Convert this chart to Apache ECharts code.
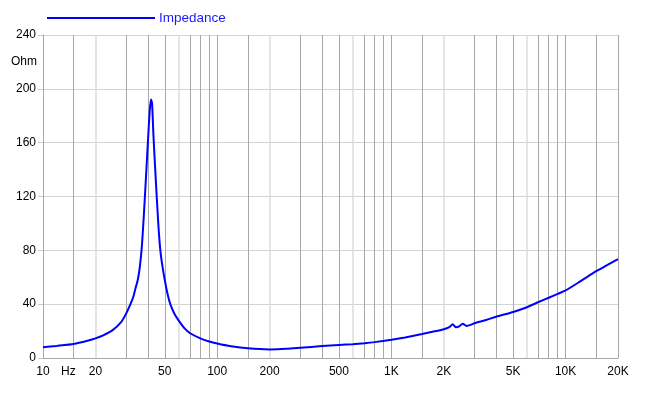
<!DOCTYPE html>
<html>
<head>
<meta charset="utf-8">
<script src="https://cdn.jsdelivr.net/npm/echarts@6/dist/echarts.min.js"></script>
<style>
html,body{margin:0;padding:0;background:#fff;}
#chart{width:650px;height:394px;}
</style>
</head>
<body>
<div id="chart"></div>
<script>
// Frequencies (Hz) and impedance (Ohm)
var freqs = [10,12,15,18,20,22,25,28,30,32,33,34,35,36,37,38,39,40,41,41.7,42.3,43,44,45,46,47,48,50,52,54,57,60,65,70,80,90,100,120,150,200,250,300,400,500,600,700,800,1000,1200,1500,1800,2000,2150,2250,2350,2450,2570,2700,2850,3000,3500,4000,5000,6000,7000,8000,9000,10000,12000,15000,17000,20000];
var impedance = [8.0,9.0,10.4,12.8,14.6,16.6,20.5,26.5,33,41,45.5,52,58,68,84,108,134,160,184,192,189,167,142,119,98,82,72,58,47,39.5,32.5,28,22,18.4,14.6,12.3,10.8,8.8,7.2,6.4,6.8,7.6,8.9,9.7,10.3,11,11.8,13.6,15.3,17.8,20,21.4,23,25,22.8,23.5,25.5,23.8,24.6,25.8,28.2,30.7,34.2,37.7,41.6,44.8,47.6,50.2,56.5,64.5,68.5,73.5];
var xLabelValues = [10,20,50,100,200,500,1000,2000,5000,10000,20000];
var gridDark = [15,30,40,50,70,80,90,100,150,300,400,500,700,800,900,1000,1500,3000,4000,5000,7000,8000,9000,10000,15000,20000];
var gridLight = [20,60,200,600,2000,6000];
var yTicks = {min:0, max:240, interval:40};
var seriesName = 'Impedance';

function fmtHz(v){
  if (v >= 1000) return (v/1000) + 'K';
  return String(v);
}

var chart = echarts.init(document.getElementById('chart'));
var fontFam = '"Liberation Sans", Arial, sans-serif';
chart.setOption({
  animation:false,
  backgroundColor:'#fff',
  textStyle:{fontFamily:fontFam},
  grid:{left:43,right:32,top:35,bottom:36,containLabel:false},
  legend:{
    data:[seriesName],
    left:42, top:6,
    icon:'rect', itemWidth:108, itemHeight:2, itemGap:4,
    textStyle:{color:'#1a1aff', fontSize:13.5, fontFamily:fontFam, padding:[0,0,0,-1]}
  },
  xAxis:{
    type:'log', logBase:10, min:10, max:20000,
    axisLine:{show:true, lineStyle:{color:'#a8a8a8'}},
    axisTick:{show:false},
    splitLine:{show:false},
    axisLabel:{customValues:xLabelValues, color:'#000', fontSize:12, margin:8, fontFamily:fontFam,
      formatter:function(v){return fmtHz(v);}}
  },
  yAxis:{
    type:'value', min:yTicks.min, max:yTicks.max, interval:yTicks.interval,
    axisLine:{show:true, lineStyle:{color:'#a8a8a8'}},
    axisTick:{show:true, length:5, lineStyle:{color:'#c8c8c8'}},
    splitLine:{show:true, lineStyle:{color:'#d4d4d4'}},
    axisLabel:{color:'#000', fontSize:12, margin:7, fontFamily:fontFam}
  },
  graphic:[
    {type:'text', left:11, top:56, style:{text:'Ohm', fill:'#000', font:'12px "Liberation Sans", Arial, sans-serif'}},
    {type:'text', left:61, top:366, style:{text:'Hz', fill:'#000', font:'12px "Liberation Sans", Arial, sans-serif'}}
  ],
  series:[
    {
      name:'gridLight', type:'line', data:[], z:1, silent:true,
      markLine:{silent:true, symbol:'none', label:{show:false}, animation:false,
        lineStyle:{color:'#dcdcdc', type:'solid', width:1.5},
        data:gridLight.map(function(v){return {xAxis:v};})}
    },
    {
      name:'gridDark', type:'line', data:[], z:1, silent:true,
      markLine:{silent:true, symbol:'none', label:{show:false}, animation:false,
        lineStyle:{color:'#a8a8a8', type:'solid', width:1},
        data:gridDark.map(function(v){return {xAxis:v};})}
    },
    {
      name:seriesName, type:'line', z:5,
      data:freqs.map(function(f,i){return [f, impedance[i]];}),
      showSymbol:false, symbol:'none', smooth:0.2,
      lineStyle:{color:'#0000ff', width:2},
      itemStyle:{color:'#0000ff'}
    }
  ]
});
</script>
</body>
</html>
